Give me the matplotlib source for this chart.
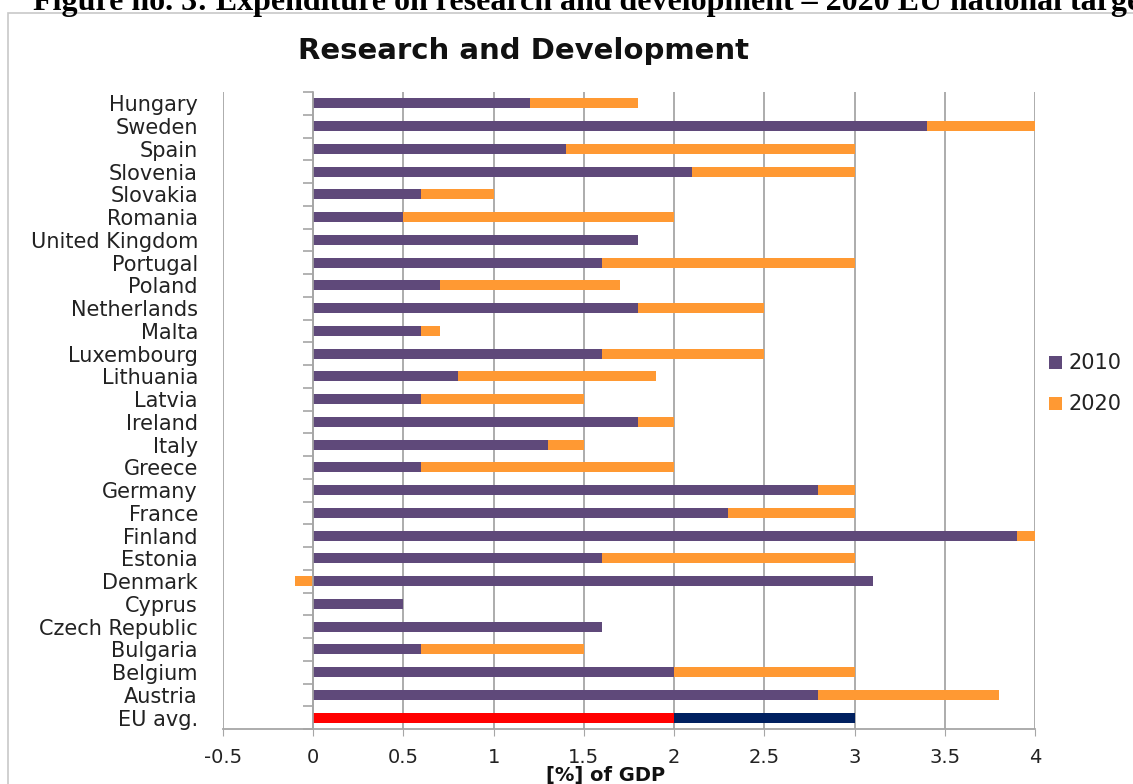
import matplotlib
matplotlib.use("Agg")
import matplotlib.pyplot as plt
import numpy as np
from matplotlib.patches import Rectangle

countries = ["Hungary", "Sweden", "Spain", "Slovenia", "Slovakia", "Romania",
             "United Kingdom", "Portugal", "Poland", "Netherlands", "Malta",
             "Luxembourg", "Lithuania", "Latvia", "Ireland", "Italy", "Greece",
             "Germany", "France", "Finland", "Estonia", "Denmark", "Cyprus",
             "Czech Republic", "Bulgaria", "Belgium", "Austria", "EU avg."]
rd_2010 = [1.2, 3.4, 1.4, 2.1, 0.6, 0.5, 1.8, 1.6, 0.7, 1.8, 0.6, 1.6, 0.8,
           0.6, 1.8, 1.3, 0.6, 2.8, 2.3, 3.9, 1.6, 3.1, 0.5, 1.6, 0.6, 2.0,
           2.8, 2.0]
# 2020 national targets (None = no target set)
rd_2020 = [1.8, 4.0, 3.0, 3.0, 1.0, 2.0, None, 3.0, 1.7, 2.5, 0.7, 2.5, 1.9,
           1.5, 2.0, 1.5, 2.0, 3.0, 3.0, 4.0, 3.0, 3.0, None, None, 1.5, 3.0,
           3.8, 3.0]
xticks = [-0.5, 0, 0.5, 1, 1.5, 2, 2.5, 3, 3.5, 4]
xtick_labels = ["-0.5", "0", "0.5", "1", "1.5", "2", "2.5", "3", "3.5", "4"]
legend_labels = ["2010", "2020"]

PURPLE = "#5F497A"
ORANGE = "#FF9933"
RED = "#FF0000"
NAVY = "#002060"
GRID = "#A6A6A6"
TEXT = "#222222"

W, H = 1133, 784
fig = plt.figure(figsize=(W / 100, H / 100), dpi=100)

def fx(px):
    return px / W

def fy(py):
    return 1 - py / H

# outer chart frame
fig.patches.append(Rectangle((fx(8), fy(1000)), 2, fy(13) - fy(1000),
                             transform=fig.transFigure, fill=False,
                             edgecolor="#C8C8C8", linewidth=1.2))

ax = fig.add_axes([fx(223), fy(729), fx(1035) - fx(223), fy(92) - fy(729)])

n = len(countries)
y = np.arange(n)[::-1]
base = np.array(rd_2010, dtype=float)
target = np.array([np.nan if v is None else v for v in rd_2020], dtype=float)
incr = np.nan_to_num(target - base, nan=0.0)
incr_left = np.where(incr >= 0, base, 0.0)

is_eu = np.array([c == "EU avg." for c in countries])
c_base = [RED if e else PURPLE for e in is_eu]
c_incr = [NAVY if e else ORANGE for e in is_eu]

bh = 0.44
ax.barh(y, base, height=bh, color=c_base, zorder=3, linewidth=0)
ax.barh(y, incr, left=incr_left, height=bh, color=c_incr, zorder=3,
        linewidth=0)

ax.set_xlim(-0.5, 4)
ax.set_ylim(-0.5, n - 0.5)

ax.set_xticks(xticks)
ax.set_xticklabels(xtick_labels, fontsize=14, color=TEXT)
ax.tick_params(axis="x", length=5, color=GRID, pad=9)
ax.grid(axis="x", color=GRID, linewidth=1.3, zorder=0)

# category axis sits at x = 0
ax.spines["left"].set_position(("data", 0))
ax.spines["left"].set_color(GRID)
ax.spines["left"].set_linewidth(1.2)
ax.spines["left"].set_zorder(4)
ax.spines["bottom"].set_color(GRID)
ax.spines["bottom"].set_linewidth(1.3)
ax.spines["top"].set_visible(False)
ax.spines["right"].set_visible(False)

ax.set_yticks(y)
ax.set_yticklabels(countries, fontsize=15, color=TEXT)
ax.set_yticks(np.arange(n + 1) - 0.5, minor=True)
ax.tick_params(axis="y", which="major", length=0, pad=83)
ax.tick_params(axis="y", which="minor", length=7, color=GRID, width=1.2)

fig.text(fx(523), fy(51), "Research and Development", ha="center",
         va="center", fontsize=21, fontweight="bold", color="#111111")
fig.text(fx(606), fy(776), "[%] of GDP", ha="center", va="center",
         fontsize=14, fontweight="bold", color="#111111")

# legend: small squares with labels to the right of the plot
for lab, col, py in zip(legend_labels, [PURPLE, ORANGE], [363, 404]):
    fig.patches.append(Rectangle((fx(1049), fy(py + 6)), fx(13), fy(0) - fy(13),
                                 transform=fig.transFigure, facecolor=col,
                                 edgecolor="none"))
    fig.text(fx(1068), fy(py), lab, ha="left", va="center", fontsize=15,
             color=TEXT)

fig.text(fx(33), fy(10),
         "Figure no. 3: Expenditure on research and development \u2013 2020 EU national targets",
         family="Liberation Serif", fontweight="bold", fontsize=23,
         ha="left", va="baseline", color="black")

fig.savefig("out.png", dpi=100, facecolor="white")
